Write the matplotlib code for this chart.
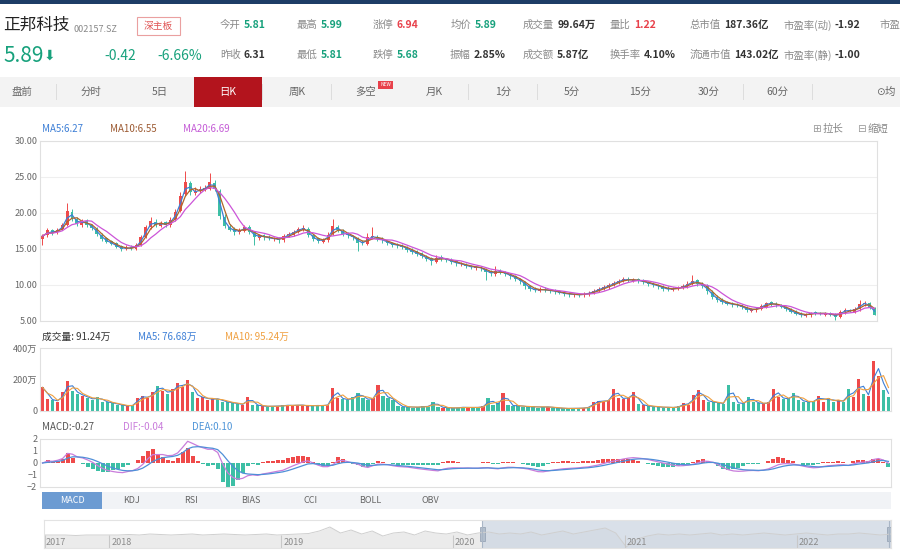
import numpy as np
import pandas as pd
import matplotlib
matplotlib.use("Agg")
import matplotlib.pyplot as plt
from matplotlib.patches import Rectangle

plt.rcParams['font.family'] = ['Noto Sans CJK SC', 'DejaVu Sans']

# daily K (each candle ~3-4 trading days)
opens = [16.4, 16.9, 17.6, 17.3, 17.8, 18.4, 20.1, 19.1, 18.4, 18.9,
         18.3, 17.8, 17.0, 16.5, 16.1, 15.8, 15.4, 15.0, 15.3, 15.0,
         15.6, 16.7, 18.1, 18.8, 18.2, 18.7, 18.3, 19.1, 20.3, 22.6,
         24.1, 22.8, 23.1, 23.2, 23.4, 24.2, 23.1, 19.4, 18.1, 17.8,
         17.3, 17.5, 18.0, 17.3, 16.5, 16.9, 16.7, 16.4, 16.5, 16.2,
         16.9, 17.0, 17.4, 17.7, 17.8, 16.9, 16.5, 16.0, 16.2, 17.1,
         18.1, 17.5, 17.2, 16.8, 16.5, 16.0, 15.7, 16.7, 16.7, 16.4,
         16.1, 15.8, 15.7, 15.5, 15.2, 14.9, 14.7, 14.4, 13.9, 13.7,
         13.2, 13.9, 13.6, 13.5, 13.3, 12.9, 12.9, 12.6, 12.4, 12.5,
         12.2, 11.9, 11.5, 12.0, 11.7, 11.4, 11.2, 10.8, 10.4, 9.8,
         9.5, 9.2, 9.5, 9.3, 9.2, 9.1, 8.9, 8.8, 8.6, 8.7,
         8.6, 8.7, 8.9, 9.2, 9.5, 9.7, 10.0, 10.3, 10.6, 10.9,
         10.6, 10.8, 10.5, 10.4, 10.2, 10.0, 9.8, 9.6, 9.3, 9.5,
         9.6, 9.8, 10.2, 10.7, 10.1, 9.9, 9.0, 8.3, 7.9, 7.6,
         7.5, 7.3, 7.2, 6.9, 6.4, 6.6, 6.7, 7.0, 7.6, 7.3,
         7.2, 6.9, 6.6, 6.3, 6.0, 5.7, 5.8, 6.2, 6.1, 5.9,
         6.1, 5.9, 5.5, 6.2, 6.5, 6.3, 6.6, 7.3, 7.5, 6.7]
closes = [16.8, 17.6, 17.2, 17.7, 18.3, 20.3, 19.2, 18.5, 18.9, 18.4,
          17.9, 17.1, 16.4, 16.0, 15.7, 15.3, 15.0, 15.2, 15.1, 15.5,
          16.6, 18.0, 18.9, 18.3, 18.6, 18.4, 19.0, 20.2, 22.4, 24.3,
          22.9, 23.0, 23.3, 23.5, 24.3, 23.4, 19.6, 18.2, 17.7, 17.4,
          17.6, 18.0, 17.4, 16.6, 16.9, 16.6, 16.5, 16.4, 16.3, 16.8,
          17.1, 17.4, 17.8, 17.9, 16.9, 16.4, 16.1, 16.3, 17.0, 18.2,
          17.6, 17.1, 16.9, 16.6, 15.9, 15.8, 16.6, 16.8, 16.4, 16.2,
          15.8, 15.6, 15.5, 15.3, 14.9, 14.6, 14.3, 14.0, 13.6, 13.3,
          13.8, 13.7, 13.5, 13.2, 13.0, 12.9, 12.6, 12.5, 12.5, 12.3,
          11.8, 11.6, 11.9, 11.8, 11.5, 11.2, 10.9, 10.5, 9.9, 9.4,
          9.3, 9.4, 9.3, 9.2, 9.1, 8.9, 8.8, 8.7, 8.7, 8.6,
          8.8, 8.9, 9.2, 9.5, 9.7, 10.0, 10.3, 10.6, 10.8, 10.7,
          10.7, 10.6, 10.4, 10.2, 10.0, 9.8, 9.5, 9.4, 9.5, 9.6,
          9.8, 10.2, 10.6, 10.2, 9.9, 9.1, 8.4, 7.9, 7.6, 7.4,
          7.3, 7.2, 6.9, 6.5, 6.6, 6.7, 7.1, 7.5, 7.4, 7.2,
          7.0, 6.6, 6.3, 6.0, 5.8, 5.9, 6.1, 6.1, 6.0, 6.1,
          5.9, 5.6, 6.3, 6.5, 6.4, 6.6, 7.4, 7.5, 6.8, 5.9]
highs = [17.1, 17.9, 17.8, 17.9, 18.6, 21.4, 20.5, 19.4, 19.2, 19.1,
         18.5, 18.0, 17.2, 16.7, 16.3, 16.0, 15.6, 15.5, 15.6, 15.8,
         16.9, 18.3, 19.5, 19.1, 18.9, 18.9, 19.4, 20.6, 22.9, 25.8,
         24.5, 23.6, 23.7, 23.9, 25.5, 24.6, 23.4, 19.9, 18.5, 18.0,
         17.9, 18.3, 18.3, 17.5, 17.1, 17.1, 16.9, 16.7, 16.7, 17.1,
         17.4, 17.7, 18.1, 18.3, 18.0, 17.1, 16.7, 16.5, 17.3, 19.2,
         18.4, 17.8, 17.4, 17.0, 16.7, 16.2, 17.2, 18.1, 16.9, 16.6,
         16.3, 16.0, 15.9, 15.7, 15.4, 15.1, 14.9, 14.6, 14.1, 13.9,
         14.1, 14.1, 13.8, 13.7, 13.4, 13.2, 13.0, 12.8, 12.7, 12.7,
         12.4, 12.1, 12.6, 12.2, 12.0, 11.6, 11.4, 11.0, 10.6, 10.0,
         9.7, 9.7, 9.7, 9.5, 9.4, 9.3, 9.1, 9.0, 8.9, 8.9,
         9.0, 9.2, 9.4, 9.7, 10.0, 10.3, 10.6, 10.9, 11.1, 11.1,
         11.0, 11.0, 10.8, 10.6, 10.4, 10.2, 10.0, 9.8, 9.7, 9.9,
         10.1, 10.5, 11.4, 10.9, 10.4, 10.1, 9.3, 8.6, 8.2, 7.8,
         7.7, 7.5, 7.4, 7.1, 6.8, 6.9, 7.3, 7.7, 7.8, 7.6,
         7.4, 7.1, 6.8, 6.5, 6.2, 6.1, 6.3, 6.4, 6.3, 6.3,
         6.3, 6.1, 6.5, 6.8, 6.7, 6.9, 7.9, 7.8, 7.6, 6.9]
lows = [15.6, 16.7, 16.9, 17.1, 17.6, 18.2, 18.9, 18.2, 18.1, 18.1,
        17.6, 16.8, 16.1, 15.8, 15.5, 15.1, 14.7, 14.8, 14.9, 14.8,
        15.4, 16.5, 17.8, 18.0, 18.0, 18.1, 18.1, 18.9, 20.1, 22.3,
        22.5, 22.5, 22.8, 23.0, 23.2, 23.0, 19.2, 17.9, 17.5, 17.0,
        17.1, 17.3, 17.1, 15.6, 16.3, 16.3, 16.2, 16.1, 15.9, 16.0,
        16.7, 16.8, 17.2, 17.5, 16.6, 16.1, 15.8, 15.8, 16.0, 16.9,
        17.3, 16.8, 16.5, 16.3, 14.7, 15.5, 15.5, 16.4, 16.1, 15.9,
        15.5, 15.3, 15.2, 15.0, 14.6, 14.3, 14.0, 13.7, 13.3, 12.8,
        13.0, 13.4, 13.2, 12.9, 12.7, 12.6, 12.3, 12.2, 12.1, 12.0,
        10.7, 11.3, 11.3, 11.5, 11.2, 10.9, 10.6, 10.2, 9.5, 9.1,
        9.0, 9.0, 9.0, 8.9, 8.8, 8.7, 8.5, 8.4, 8.4, 8.3,
        8.4, 8.5, 8.7, 9.0, 9.3, 9.5, 9.8, 10.1, 10.4, 10.4,
        10.4, 10.3, 10.1, 9.9, 9.7, 9.5, 9.2, 9.1, 9.1, 9.3,
        9.4, 9.6, 10.0, 9.9, 9.6, 8.8, 8.1, 7.7, 7.3, 7.2,
        7.0, 6.9, 6.7, 6.3, 6.2, 6.3, 6.5, 6.8, 7.1, 7.0,
        6.8, 6.4, 6.1, 5.8, 5.6, 5.5, 5.6, 5.9, 5.8, 5.7,
        5.7, 5.2, 5.4, 6.0, 6.2, 6.1, 6.4, 7.1, 6.6, 5.8]

# volume, 万
volumes = [150, 75, 70, 60, 120, 190, 130, 110, 95, 85,
           70, 90, 60, 55, 50, 40, 35, 30, 40, 85,
           95, 80, 120, 160, 130, 110, 140, 175, 150, 195,
           120, 85, 90, 70, 80, 75, 60, 55, 50, 45,
           40, 92, 40, 35, 30, 28, 32, 30, 35, 38,
           33, 40, 35, 30, 38, 32, 36, 40, 146, 85,
           75, 70, 90, 114, 80, 70, 85, 168, 95, 85,
           70, 30, 25, 28, 22, 25, 30, 28, 60, 25,
           22, 20, 18, 22, 25, 20, 24, 22, 30, 82,
           40, 50, 114, 40, 30, 35, 28, 25, 30, 22,
           28, 25, 20, 18, 17, 15, 18, 16, 20, 25,
           55, 65, 60, 70, 140, 85, 75, 90, 118, 45,
           35, 30, 28, 25, 22, 25, 20, 30, 50, 40,
           103, 135, 70, 60, 55, 50, 45, 168, 60, 45,
           50, 92, 55, 50, 45, 55, 140, 90, 75, 80,
           114, 70, 60, 55, 65, 95, 60, 85, 55, 70,
           60, 140, 90, 204, 110, 95, 318, 221, 135, 90]

# navigator (overview) curve, height in px above the strip bottom
nav_values = [13, 13, 13, 12.5, 13, 13, 13,
              13, 13.5, 13, 14, 13.5, 13, 13.5, 14, 13, 13.5, 14, 13.5, 13,
              13.5, 14, 13, 13.5, 14, 14.5,
              17, 21, 15, 18, 14, 17, 12, 15, 16, 13, 17, 15, 14, 16, 13,
              15, 16, 14,
              15, 14, 16, 13, 15, 17, 14, 16, 18, 20, 15, 1, 9, 12, 14,
              13, 14, 13, 14, 15, 13, 14, 13, 14, 15, 14, 13, 14, 15, 14,
              13, 14, 14, 15, 14, 13, 14]
nav_years = [2018, 2019, 2020, 2021, 2022]

header_row1 = [(220, "今开", "5.81", "g"), (297, "最高", "5.99", "g"),
               (373, "涨停", "6.94", "r"), (451, "均价", "5.89", "g"),
               (523, "成交量", "99.64万", "k"), (610, "量比", "1.22", "r"),
               (690, "总市值", "187.36亿", "k"), (783, "市盈率(动)", "-1.92", "k")]
header_row2 = [(220, "昨收", "6.31", "k"), (297, "最低", "5.81", "g"),
               (373, "跌停", "5.68", "g"), (450, "振幅", "2.85%", "k"),
               (523, "成交额", "5.87亿", "k"), (610, "换手率", "4.10%", "k"),
               (690, "流通市值", "143.02亿", "k"), (783, "市盈率(静)", "-1.00", "k")]
period_tabs = ["盘前", "分时", "5日", "日K", "周K", "多空", "月K", "1分", "5分", "15分", "30分", "60分"]
indicator_tabs = ["MACD", "KDJ", "RSI", "BIAS", "CCI", "BOLL", "OBV"]

W, H = 900, 555
UP, DOWN = '#ef4a4a', '#3dbfa5'
GREEN, RED, DARK = '#17a17c', '#e8414b', '#333333'


def rect(x0, y0, x1, y1):
    return [x0 / W, 1 - y1 / H, (x1 - x0) / W, (y1 - y0) / H]


def ftext(fig, x, y, s, **kw):
    kw.setdefault('va', 'center')
    return fig.text(x / W, 1 - y / H, s, **kw)


def fbox(fig, x0, y0, x1, y1, **kw):
    fig.add_artist(Rectangle((x0 / W, 1 - y1 / H), (x1 - x0) / W, (y1 - y0) / H,
                             transform=fig.transFigure, **kw))


def style_axis(ax, grid=False):
    for s in ax.spines.values():
        s.set_color('#e0e0e0')
        s.set_linewidth(0.8)
    ax.tick_params(axis='both', length=0, labelsize=6.5, labelcolor='#666666', pad=2)
    ax.set_xticks([])
    if grid:
        ax.grid(axis='y', color='#efefef', linewidth=0.8)
        ax.set_axisbelow(True)


def main():
    fig = plt.figure(figsize=(9, 5.55), dpi=100)
    renderer = fig.canvas.get_renderer()

    # header
    fbox(fig, 0, 0, 900, 4, color='#1d3d66', lw=0)
    ftext(fig, 3, 25, "正邦科技", fontsize=12, color='#222222')
    ftext(fig, 73, 29, "002157.SZ", fontsize=6.5, color='#888888')
    fbox(fig, 137, 17, 180, 35, facecolor='white', edgecolor='#eaa0a0', lw=0.8)
    ftext(fig, 158.5, 26, "深主板", fontsize=7, color='#e05555', ha='center')
    ftext(fig, 3, 56, "5.89", fontsize=15, color=GREEN)
    ftext(fig, 44, 56, "⬇", fontsize=10, color=GREEN, family=['DejaVu Sans'])
    ftext(fig, 104, 56, "-0.42", fontsize=10, color=GREEN)
    ftext(fig, 157, 56, "-6.66%", fontsize=10, color=GREEN)
    colors = {"g": GREEN, "r": RED, "k": DARK}
    for y, row in [(25, header_row1), (55, header_row2)]:
        for x, lab, val, c in row:
            t = ftext(fig, x, y, lab, fontsize=7.5, color='#8a8a8a')
            bb = t.get_window_extent(renderer=renderer)
            ftext(fig, bb.x1 + 3, y, val, fontsize=7.5, color=colors[c], fontweight='bold')
    # the next column is cut by the screenshot edge
    ftext(fig, 880, 25, "市盈", fontsize=7.5, color='#8a8a8a')

    # period tab bar
    fbox(fig, 0, 77, 900, 107, color='#f3f3f3', lw=0)
    for i, name in enumerate(period_tabs):
        cx = 22 + i * 68.7
        if name == "日K":
            fbox(fig, cx - 34, 77, cx + 34, 107, color='#b3141d', lw=0)
            ftext(fig, cx, 92, name, fontsize=7.5, color='white', ha='center')
        else:
            ftext(fig, cx, 92, name, fontsize=7.5, color='#666666', ha='center')
        if i > 0:
            fbox(fig, cx - 34.5, 84, cx - 34, 100, color='#dddddd', lw=0)
        if name == "多空":
            fbox(fig, 378, 81, 393, 89, color=RED, lw=0)
            ftext(fig, 385.5, 85, "NEW", fontsize=3.5, color='white', ha='center')
    fbox(fig, 812, 84, 812.5, 100, color='#dddddd', lw=0)
    ftext(fig, 876, 92, "⊙", fontsize=7.5, color='#666666', family=['DejaVu Sans'])
    ftext(fig, 885, 92, "均", fontsize=7.5, color='#666666')

    n = len(closes)
    x = np.arange(n)
    o = np.array(opens)
    c = np.array(closes)
    up = c >= o
    cs = pd.Series(closes)

    # price panel
    ax = fig.add_axes(rect(40, 141, 877, 321))
    style_axis(ax, grid=True)
    bar_col = np.where(up, UP, DOWN)
    ax.vlines(x, lows, highs, colors=bar_col, lw=0.7)
    body = np.where(np.abs(c - o) < 0.05, 0.05, c - o)
    ax.bar(x, body, bottom=o, width=0.6, color=bar_col, lw=0)
    ax.plot(x, cs.rolling(2, min_periods=1).mean(), color='#3d7fd6', lw=0.9)
    ax.plot(x, cs.rolling(3, min_periods=1).mean(), color='#b0652a', lw=0.9)
    ax.plot(x, cs.rolling(6, min_periods=1).mean(), color='#cc55d8', lw=0.9)
    ax.set_xlim(-0.5, n - 0.5)
    ax.set_ylim(5, 30)
    ax.set_yticks([5, 10, 15, 20, 25, 30])
    ax.set_yticklabels(["%.2f" % v for v in [5, 10, 15, 20, 25, 30]])
    ftext(fig, 42, 129, "MA5:6.27", fontsize=7, color='#3d7fd6')
    ftext(fig, 110, 129, "MA10:6.55", fontsize=7, color='#9c5a32')
    ftext(fig, 183, 129, "MA20:6.69", fontsize=7, color='#c45bd6')
    ftext(fig, 812, 129, "⊞", fontsize=7.5, color='#999999', family=['DejaVu Sans'])
    ftext(fig, 823, 129, "拉长", fontsize=7.5, color='#888888')
    ftext(fig, 857, 129, "⊟", fontsize=7.5, color='#999999', family=['DejaVu Sans'])
    ftext(fig, 868, 129, "缩短", fontsize=7.5, color='#888888')

    # volume panel
    axv = fig.add_axes(rect(40, 348, 891, 411))
    style_axis(axv)
    vs = pd.Series(volumes)
    axv.bar(x, volumes, width=0.65, color=bar_col, lw=0)
    axv.plot(x, vs.rolling(2, min_periods=1).mean(), color='#3d7fd6', lw=0.8)
    axv.plot(x, vs.rolling(3, min_periods=1).mean(), color='#f0a040', lw=0.8)
    axv.set_xlim(-0.5, n - 0.5)
    axv.set_ylim(0, 400)
    axv.set_yticks([0, 200, 400])
    axv.set_yticklabels(["0", "200万", "400万"])
    ftext(fig, 42, 337, "成交量: 91.24万", fontsize=7, color=DARK)
    ftext(fig, 138, 337, "MA5: 76.68万", fontsize=7, color='#3d7fd6')
    ftext(fig, 225, 337, "MA10: 95.24万", fontsize=7, color='#f0a040')

    # MACD panel
    axm = fig.add_axes(rect(40, 439, 891, 487))
    style_axis(axm)
    dif = cs.ewm(span=4, adjust=False).mean() - cs.ewm(span=9, adjust=False).mean()
    dea = dif.ewm(span=5, adjust=False).mean()
    hist = 2 * (dif - dea)
    axm.bar(x, hist, width=0.8, color=np.where(hist >= 0, UP, DOWN), lw=0)
    axm.plot(x, dif, color='#c97ddb', lw=0.9)
    axm.plot(x, dea, color='#4f8fd8', lw=0.9)
    axm.set_xlim(-0.5, n - 0.5)
    axm.set_ylim(-2, 2)
    axm.set_yticks([-2, -1, 0, 1, 2])
    ftext(fig, 42, 427, "MACD:-0.27", fontsize=7, color='#555555')
    ftext(fig, 123, 427, "DIF:-0.04", fontsize=7, color='#c97ddb')
    ftext(fig, 192, 427, "DEA:0.10", fontsize=7, color='#4f95d8')

    # indicator tabs
    fbox(fig, 42, 492, 891, 509, color='#f1f3f6', lw=0)
    fbox(fig, 42, 492, 102, 509, color='#6c9bd2', lw=0)
    for i, name in enumerate(indicator_tabs):
        cx = 72 + i * 59.7
        ftext(fig, cx, 500.5, name, fontsize=6.5, ha='center',
              color='white' if i == 0 else '#666666')

    # navigator
    axn = fig.add_axes(rect(44, 520, 891, 548))
    for s in axn.spines.values():
        s.set_color('#e3e3e3')
    axn.set_xticks([])
    axn.set_yticks([])
    t0, t1 = 2017.62, 2022.55
    nx = np.linspace(t0, t1, len(nav_values))
    axn.fill_between(nx, 0, nav_values, color='#ebebeb', lw=0)
    axn.plot(nx, nav_values, color='#cfcfcf', lw=0.7)
    axn.set_xlim(t0, t1)
    axn.set_ylim(0, 28)
    axn.vlines([t0 + 0.004] + nav_years, 0, 13, color='#c8c8c8', lw=0.8)
    for yr in [2017] + nav_years:
        axn.text(max(yr, t0) + 0.012, 5.5, str(yr), fontsize=6.5, color='#8a8a8a', va='center')
    sel0 = 2020.17
    axn.axvspan(sel0, t1, color='#cdd6e2', alpha=0.75, lw=0)
    for hx in [sel0, t1 - 0.01]:
        axn.vlines(hx, 0, 28, color='#a9b6c6', lw=0.8)
        axn.bar(hx, 14, bottom=7, width=0.03, color='#b3bfcd', edgecolor='#8f9db0', lw=0.5)

    fig.savefig("out.png", dpi=100)


if __name__ == '__main__':
    main()
